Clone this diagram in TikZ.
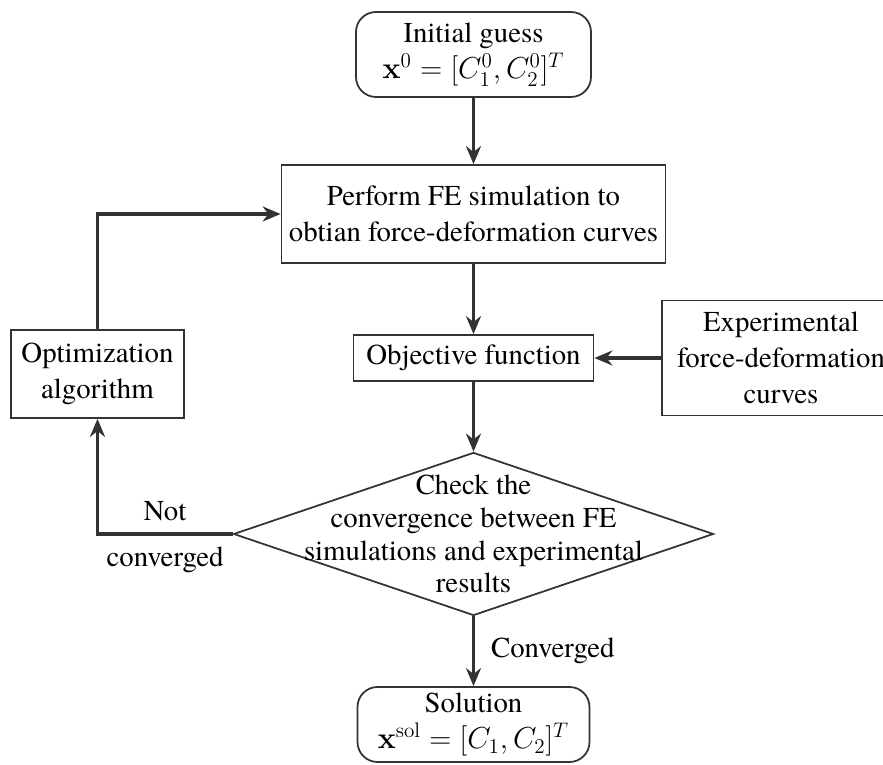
\documentclass[tikz,border=0pt]{standalone}
\usepackage[no-math]{fontspec}
\setmainfont{texgyretermes}[Extension=.otf, UprightFont=*-regular, BoldFont=*-bold, ItalicFont=*-italic, BoldItalicFont=*-bolditalic]
\usetikzlibrary{shapes.geometric,arrows.meta}

\begin{document}
\begin{tikzpicture}[every node/.style={font=\fontsize{16.4}{20.5}\selectfont, align=center},
  box/.style={draw=black!80, line width=1pt, inner sep=0pt},
  term/.style={box, rounded corners=0.4cm},
  flow/.style={draw=black!80, line width=1.9pt, -{Stealth[length=0.36cm,width=0.3cm]}}]
\useasboundingbox (0,0) rectangle (17.66,15.3);
% main column
\node[term, minimum width=4.7cm, minimum height=1.7cm] (init) at (9.47,14.21) {Initial guess\\$\mathbf{x}^0=[C_1^0,C_2^0]^T$};
\node[box, minimum width=7.68cm, minimum height=1.96cm] (fe) at (9.47,11.02) {Perform FE simulation to\\obtian force-deformation curves};
\node[box, minimum width=4.8cm, minimum height=0.92cm] (obj) at (9.47,8.14) {Objective function};
\node[box, shape=diamond, minimum width=9.6cm, minimum height=3.26cm] (check) at (9.47,4.62) {};
\node[font=\fontsize{16.4}{18.7}\selectfont] (checktxt) at (check.center) {Check the\\convergence between FE\\simulations and experimental\\results};
\node[term, minimum width=4.64cm, minimum height=1.5cm] (sol) at (9.47,0.81) {Solution\\$\mathbf{x}^{\mathrm{sol}}=[C_1,C_2]^T$};
% side boxes (right one runs off the page)
\node[box, minimum width=4.76cm, minimum height=2.3cm] (exp) at (15.62,8.14) {Experimental\\force-deformation\\curves};
\node[box, minimum width=3.46cm, minimum height=1.76cm] (opt) at (1.95,7.82) {Optimization\\algorithm};
% arrows
\draw[flow] (init) -- (fe);
\draw[flow] (fe) -- (obj);
\draw[flow] (exp) -- (obj);
\draw[flow] (obj) -- (check);
\draw[flow] (check) -- node[right=0.2cm]{Converged} (sol);
\draw[flow] (check.west) -| node[pos=0.25, above=0.12cm]{Not} node[pos=0.25, below=0.1cm]{converged} (opt);
\draw[flow] (opt) |- (fe);
\end{tikzpicture}
\end{document}
